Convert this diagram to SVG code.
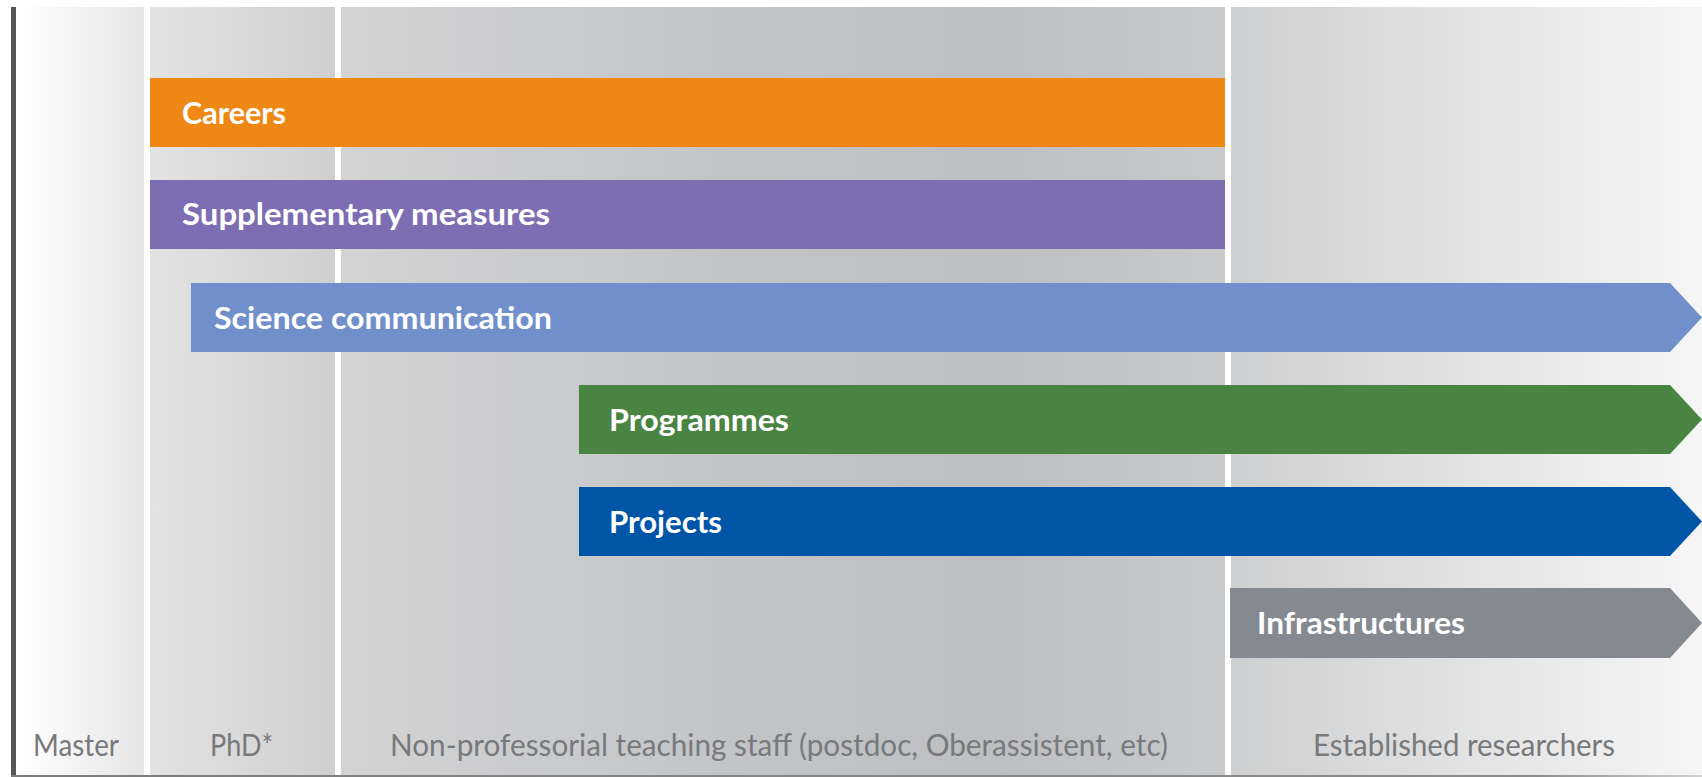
<svg xmlns="http://www.w3.org/2000/svg" width="1702" height="777" viewBox="0 0 1702 777">
  <defs>
    <linearGradient id="gMaster" x1="0" y1="0" x2="1" y2="0">
      <stop offset="0" stop-color="#ffffff"/>
      <stop offset="1" stop-color="#e6e6e6"/>
    </linearGradient>
    <linearGradient id="gPhd" x1="0" y1="0" x2="1" y2="0">
      <stop offset="0" stop-color="#e3e3e3"/>
      <stop offset="1" stop-color="#cfcfd0"/>
    </linearGradient>
    <linearGradient id="gNonProf" x1="0" y1="0" x2="1" y2="0">
      <stop offset="0" stop-color="#d3d3d4"/>
      <stop offset="0.45" stop-color="#c2c4c6"/>
      <stop offset="0.75" stop-color="#bdbfc2"/>
      <stop offset="1" stop-color="#c9cacc"/>
    </linearGradient>
    <linearGradient id="gEst" x1="0" y1="0" x2="1" y2="0">
      <stop offset="0" stop-color="#cecfd0"/>
      <stop offset="1" stop-color="#f6f6f6"/>
    </linearGradient>
    <linearGradient id="gLine" x1="0" y1="0" x2="1" y2="0">
      <stop offset="0" stop-color="#7d7d7d"/>
      <stop offset="0.9" stop-color="#8c8c8c"/>
      <stop offset="1" stop-color="#d0d0d0"/>
    </linearGradient>
  </defs>
  <style>
    .bar-label { font-family: Lato, "Open Sans", "Liberation Sans", sans-serif; font-weight: 700; font-size: 30px; fill: #ffffff; }
    .col-label { font-family: Lato, "Open Sans", "Liberation Sans", sans-serif; font-weight: 400; font-size: 30px; fill: #77797c; }
  </style>

  <rect x="0" y="0" width="1702" height="777" fill="#ffffff"/>

  <g id="background">
    <rect x="16" y="7" width="128" height="770" fill="url(#gMaster)"/>
    <rect x="150" y="7" width="185" height="770" fill="url(#gPhd)"/>
    <rect x="341" y="7" width="884" height="770" fill="url(#gNonProf)"/>
    <rect x="1231" y="7" width="471" height="770" fill="url(#gEst)"/>
    <rect x="11" y="7" width="5" height="770" fill="#555555"/>
    <rect x="11" y="775" width="1691" height="2" fill="url(#gLine)"/>
  </g>

  <g id="careers">
    <rect x="150" y="78" width="1075" height="69" fill="#ef8714"/>
    <text class="bar-label" x="182" y="124" textLength="104" lengthAdjust="spacingAndGlyphs">Careers</text>
  </g>

  <g id="supplementary-measures">
    <rect x="150" y="180" width="1075" height="69" fill="#7d6db3"/>
    <text class="bar-label" x="182" y="225" textLength="368" lengthAdjust="spacingAndGlyphs">Supplementary measures</text>
  </g>

  <g id="science-communication">
    <polygon points="191,283 1670,283 1702,317.5 1670,352 191,352" fill="#7190cb"/>
    <text class="bar-label" x="214" y="329" textLength="338" lengthAdjust="spacingAndGlyphs">Science communication</text>
  </g>

  <g id="programmes">
    <polygon points="579,385 1670,385 1702,419.5 1670,454 579,454" fill="#4a8443"/>
    <text class="bar-label" x="609" y="431" textLength="180" lengthAdjust="spacingAndGlyphs">Programmes</text>
  </g>

  <g id="projects">
    <polygon points="579,487 1670,487 1702,521.5 1670,556 579,556" fill="#0055a6"/>
    <text class="bar-label" x="609" y="533" textLength="113" lengthAdjust="spacingAndGlyphs">Projects</text>
  </g>

  <g id="infrastructures">
    <polygon points="1230,588 1670,588 1702,623 1670,658 1230,658" fill="#858a90"/>
    <text class="bar-label" x="1257" y="634" textLength="208" lengthAdjust="spacingAndGlyphs">Infrastructures</text>
  </g>

  <g id="column-labels">
    <text class="col-label" x="33" y="756" textLength="86" lengthAdjust="spacingAndGlyphs">Master</text>
    <text class="col-label" x="210" y="756" textLength="63" lengthAdjust="spacingAndGlyphs">PhD*</text>
    <text class="col-label" x="390" y="756" textLength="778" lengthAdjust="spacingAndGlyphs">Non-professorial teaching staff (postdoc, Oberassistent, etc)</text>
    <text class="col-label" x="1313" y="756" textLength="302" lengthAdjust="spacingAndGlyphs">Established researchers</text>
  </g>
</svg>
